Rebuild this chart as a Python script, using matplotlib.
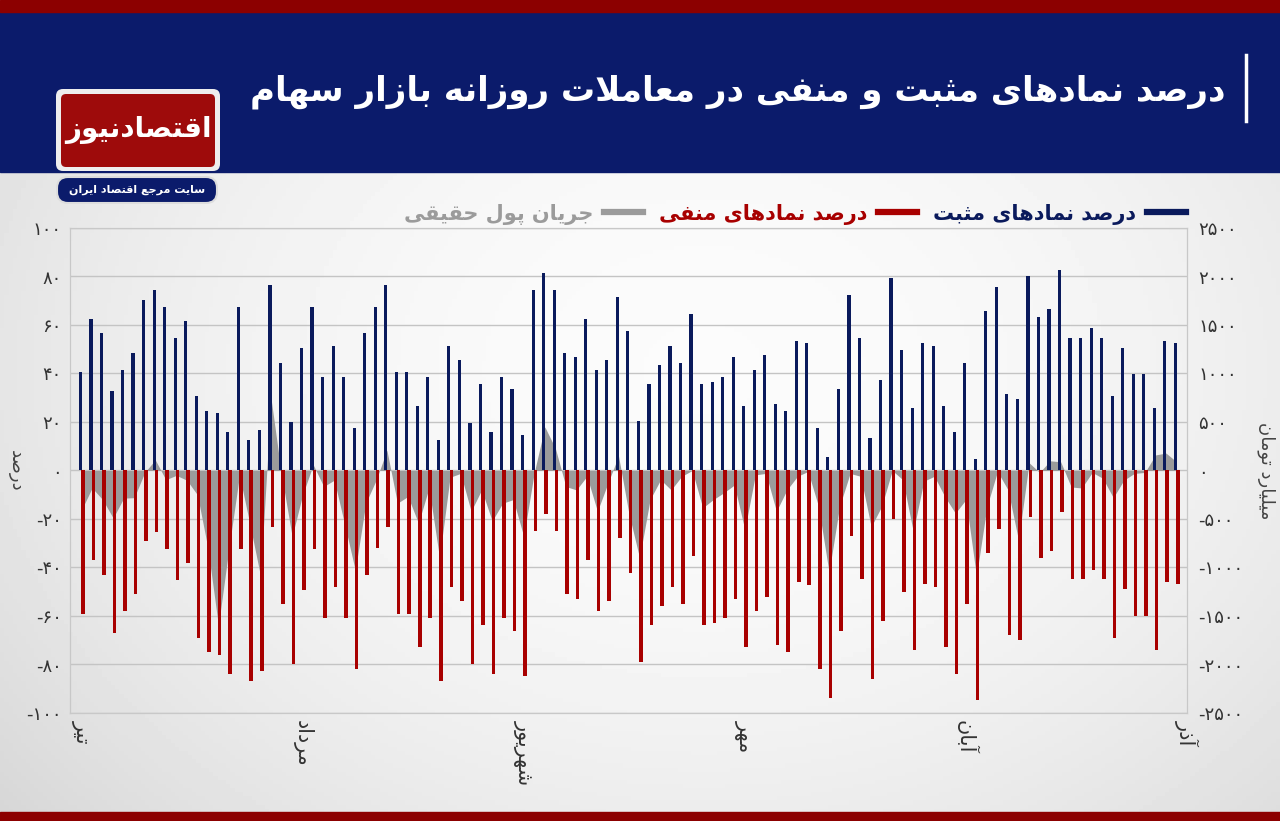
import numpy as np
import matplotlib.pyplot as plt
from matplotlib.patches import Rectangle, FancyBboxPatch
from matplotlib.lines import Line2D

plt.rcParams['font.family'] = ['DejaVu Sans']

# daily values (105 trading days)
positive = [40.5, 62.5, 56.5, 32.6, 41.6, 48.5, 70.5, 74.5, 67.5, 54.7, 61.6, 30.7, 24.6, 23.6, 15.8,
            67.5, 12.6, 16.8, 76.4, 44.5, 19.8, 50.6, 67.5, 38.6, 51.5, 38.6, 17.7,
            56.5, 67.5, 76.4, 40.5, 40.5, 26.7, 38.6, 12.6, 51.5, 45.5, 19.7, 35.6, 15.7, 38.6,
            33.5, 14.6, 74.4, 81.4, 74.4, 48.5, 46.6, 62.5, 41.5, 45.5, 71.5, 57.5,
            20.6, 35.6, 43.6, 51.5, 44.5, 64.5, 35.6, 36.6, 38.6, 46.6, 26.7, 41.5, 47.6, 27.6,
            24.6, 53.5, 52.5, 17.6, 5.6, 33.5, 72.4, 54.6, 13.6, 37.5, 79.5, 49.5, 25.6,
            52.5, 51.5, 26.7, 15.7, 44.5, 4.7, 65.6, 75.5, 31.6, 29.6, 80.4, 63.5, 66.5, 82.5,
            54.6, 54.6, 58.6, 54.6, 30.7, 50.6, 39.6, 39.6, 25.6, 53.5, 52.5]
negative = [-59.1, -37.0, -43.2, -67.1, -58.0, -51.1, -29.1, -25.2, -32.2, -45.1, -38.2, -69.1, -74.9,
            -75.9, -83.8, -32.2, -86.7, -82.7, -23.2, -55.0, -79.9, -49.1, -32.2, -61.0, -48.1, -60.9, -81.8,
            -43.0, -32.0, -23.1, -59.0, -59.0, -72.9, -60.9, -86.7, -48.0, -54.0, -79.9, -63.9, -83.8,
            -60.9, -66.0, -84.8, -25.0, -18.1, -25.0, -51.0, -53.1, -37.0, -58.0, -54.0, -28.0, -42.1,
            -78.9, -63.8, -55.8, -48.0, -55.0, -35.1, -63.9, -62.9, -60.9, -52.9, -72.9, -58.0, -52.0,
            -71.9, -74.9, -46.0, -47.1, -81.8, -93.7, -66.0, -27.1, -44.9, -85.9, -62.0, -20.1, -49.9, -74.0,
            -47.0, -48.0, -72.9, -83.8, -55.0, -94.6, -34.1, -24.1, -67.9, -70.0, -19.1, -36.0, -33.0,
            -17.0, -44.9, -44.9, -41.0, -44.9, -68.9, -48.9, -59.9, -59.9, -74.0, -46.0, -47.0]
flow = [-405, -180, -300, -490, -285, -280, -20, 110, -95, -50,
        -100, -250, -800, -1600, -800, -50, -560, -1090, 740, -50,
        -680, -250, 60, -165, -100, -560, -1030, -335, -95, 210,
        -337, -268, -543, -180, -900, -70, -30, -420, -200, -520,
        -337, -300, -680, -20, 450, 230, -165, -200, -60, -420,
        -130, 150, -450, -900, -300, -95, -200, -60, 0, -385,
        -300, -230, -150, -610, -45, -30, -420, -200, -60, -10,
        -370, -1050, -370, -30, -60, -580, -370, 0, -95, -630,
        -110, -60, -270, -440, -300, -1090, -370, -10, -200, -720,
        80, -20, 100, 90, -170, -180, -20, -80, -280, -100,
        -30, -20, 160, 180, 90]

months = ['تیر', 'مرداد', 'شهریور', 'مهر', 'آبان', 'آذر']
month_pos = [0, 21, 42, 63, 84, 105]
left_ticks = [-100, -80, -60, -40, -20, 0, 20, 40, 60, 80, 100]
right_ticks = [-2500, -2000, -1500, -1000, -500, 0, 500, 1000, 1500, 2000, 2500]

title = 'درصد نمادهای مثبت و منفی در معاملات روزانه بازار سهام'
leg_pos = 'درصد نمادهای مثبت'
leg_neg = 'درصد نمادهای منفی'
leg_flow = 'جریان پول حقیقی'

NAVY = '#0a1a5c'
RED = '#a80000'
GRAY = '#9b9b9b'

# --- minimal arabic/persian shaping (presentation forms + reversed order) ---
FORMS = {
    'ا': (0xFE8D, 0xFE8E), 'آ': (0xFE81, 0xFE82),
    'ب': (0xFE8F, 0xFE90, 0xFE91, 0xFE92), 'پ': (0xFB56, 0xFB57, 0xFB58, 0xFB59),
    'ت': (0xFE95, 0xFE96, 0xFE97, 0xFE98), 'ث': (0xFE99, 0xFE9A, 0xFE9B, 0xFE9C),
    'ج': (0xFE9D, 0xFE9E, 0xFE9F, 0xFEA0), 'ح': (0xFEA1, 0xFEA2, 0xFEA3, 0xFEA4),
    'د': (0xFEA9, 0xFEAA), 'ذ': (0xFEAB, 0xFEAC), 'ر': (0xFEAD, 0xFEAE), 'ز': (0xFEAF, 0xFEB0),
    'س': (0xFEB1, 0xFEB2, 0xFEB3, 0xFEB4), 'ش': (0xFEB5, 0xFEB6, 0xFEB7, 0xFEB8),
    'ص': (0xFEB9, 0xFEBA, 0xFEBB, 0xFEBC), 'ع': (0xFEC9, 0xFECA, 0xFECB, 0xFECC),
    'ف': (0xFED1, 0xFED2, 0xFED3, 0xFED4), 'ق': (0xFED5, 0xFED6, 0xFED7, 0xFED8),
    'ل': (0xFEDD, 0xFEDE, 0xFEDF, 0xFEE0), 'م': (0xFEE1, 0xFEE2, 0xFEE3, 0xFEE4),
    'ن': (0xFEE5, 0xFEE6, 0xFEE7, 0xFEE8), 'ه': (0xFEE9, 0xFEEA, 0xFEEB, 0xFEEC),
    'و': (0xFEED, 0xFEEE), 'ی': (0xFEEF, 0xFEF0, 0xFEF3, 0xFEF4),
}
LAM_ALEF = {'ا': (0xFEFB, 0xFEFC), 'آ': (0xFEF5, 0xFEF6)}


def fa(text):
    def dual(c):
        return c in FORMS and len(FORMS[c]) == 4
    out = []
    i = 0
    while i < len(text):
        c = text[i]
        if c not in FORMS:
            out.append(c)
            i += 1
            continue
        jp = i > 0 and dual(text[i - 1])
        if c == 'ل' and i + 1 < len(text) and text[i + 1] in LAM_ALEF:
            out.append(chr(LAM_ALEF[text[i + 1]][1 if jp else 0]))
            i += 2
            continue
        jn = dual(c) and i + 1 < len(text) and text[i + 1] in FORMS
        f = FORMS[c]
        g = f[3] if (jp and jn) else f[1] if jp else f[2] if jn else f[0]
        out.append(chr(g))
        i += 1
    return ''.join(reversed(out))


def fa_num(v):
    s = str(abs(v)).translate(str.maketrans('0123456789', '۰۱۲۳۴۵۶۷۸۹'))
    return '-' + s if v < 0 else s


W, H = 1280, 821
fig = plt.figure(figsize=(W / 100, H / 100), dpi=100)

# background gradient
bg = fig.add_axes([0, 0, 1, 1], zorder=-10)
yy, xx = np.mgrid[0:1:200j, 0:1:300j]
r2 = ((xx - 0.55) / 0.75) ** 2 + ((yy - 0.45) / 0.9) ** 2
bg.imshow(0.985 - 0.16 * r2, cmap='gray', vmin=0, vmax=1, aspect='auto', extent=[0, 1, 0, 1])
bg.set_axis_off()

# header band
fig.add_artist(Rectangle((0, 1 - 172 / H), 1, 160 / H, transform=fig.transFigure, color='#0b1b6b', zorder=1))
fig.add_artist(Rectangle((0, 1 - 12 / H), 1, 12 / H, transform=fig.transFigure, color='#8c0000', zorder=1))
fig.add_artist(Rectangle((0, 0), 1, 9 / H, transform=fig.transFigure, color='#8c0000', zorder=1))
fig.add_artist(Line2D([1246 / W, 1246 / W], [1 - 55 / H, 1 - 121 / H], transform=fig.transFigure,
                      color='white', lw=2.5, zorder=2))
fig.text(1225 / W, 1 - 92 / H, fa(title), color='white', fontsize=24.5, fontweight='bold',
         ha='right', va='center', zorder=3)

# logo
lg = fig.add_axes([53 / W, 1 - 174 / H, 170 / W, 88 / H], zorder=5)
lg.set_xlim(0, 170)
lg.set_ylim(0, 88)
lg.set_axis_off()
lg.add_patch(FancyBboxPatch((3, 3), 164, 82, boxstyle='round,pad=0,rounding_size=7', fc='#eeeeee', ec='none'))
lg.add_patch(FancyBboxPatch((8, 7), 154, 73, boxstyle='round,pad=0,rounding_size=5', fc='#9e0b0b', ec='none'))
lg.text(85, 44, fa('اقتصادنیوز'), color='white', fontsize=20, fontweight='bold', ha='center', va='center')
pl = fig.add_axes([56 / W, 1 - 204 / H, 162 / W, 28 / H], zorder=5)
pl.set_xlim(0, 162)
pl.set_ylim(0, 28)
pl.set_axis_off()
pl.add_patch(FancyBboxPatch((1, 1), 160, 26, boxstyle='round,pad=0,rounding_size=11', fc='#0b1b6b',
                            ec='#dddddd', lw=1.5))
pl.text(81, 14, fa('سایت مرجع اقتصاد ایران'), color='white', fontsize=8, fontweight='bold',
        ha='center', va='center')

# main chart
ax = fig.add_axes([70 / W, 1 - 713 / H, 1117 / W, 485 / H])
ax2 = ax.twinx()
ax.set_zorder(ax2.get_zorder() + 1)
ax.patch.set_visible(False)
ax2.patch.set_visible(False)

idx = np.arange(len(positive))
ax2.fill_between(idx, flow, 0, color=GRAY, lw=0, zorder=1)
ax.bar(idx - 0.11, positive, width=0.3, color=NAVY, zorder=3)
ax.bar(idx + 0.12, negative, width=0.34, color=RED, zorder=3)

ax.set_xlim(-1.1, 105)
ax.set_ylim(-100, 100)
ax2.set_ylim(-2500, 2500)
ax.set_yticks(left_ticks)
ax.set_yticklabels([fa_num(v) for v in left_ticks])
ax2.set_yticks(right_ticks)
ax2.set_yticklabels([fa_num(v) for v in right_ticks])
ax2.grid(axis='y', color='#c4c4c4', lw=1)
ax2.set_axisbelow(True)
ax.set_xticks(month_pos)
ax.set_xticklabels([fa(m) for m in months], rotation=270, va='top', ha='center')
for a in (ax, ax2):
    a.tick_params(length=0, labelsize=13, labelcolor='#333333')
    for s in a.spines.values():
        s.set_color('#c8c8c8')
ax.tick_params(axis='x', labelsize=15, pad=5)
ax.tick_params(axis='y', pad=6)
ax2.tick_params(axis='y', pad=8)

ax.set_ylabel(fa('درصد'), fontsize=13, color='#444444', rotation=270, labelpad=14, va='bottom')
ax2.set_ylabel(fa('میلیارد تومان'), fontsize=13, color='#444444', rotation=270, labelpad=10, va='bottom')

handles = [Line2D([], [], color=GRAY, lw=4.5), Line2D([], [], color=RED, lw=4.5),
           Line2D([], [], color=NAVY, lw=4.5)]
fig.legend(handles, [fa(leg_flow), fa(leg_neg), fa(leg_pos)], ncol=3, markerfirst=False,
           frameon=False, loc='center right', bbox_to_anchor=(1205 / W, 1 - 214 / H),
           handlelength=1.9, columnspacing=0.75, handletextpad=0.5,
           labelcolor=[GRAY, RED, NAVY], prop={'weight': 'bold', 'size': 15})

fig.savefig('out.png', dpi=100)
